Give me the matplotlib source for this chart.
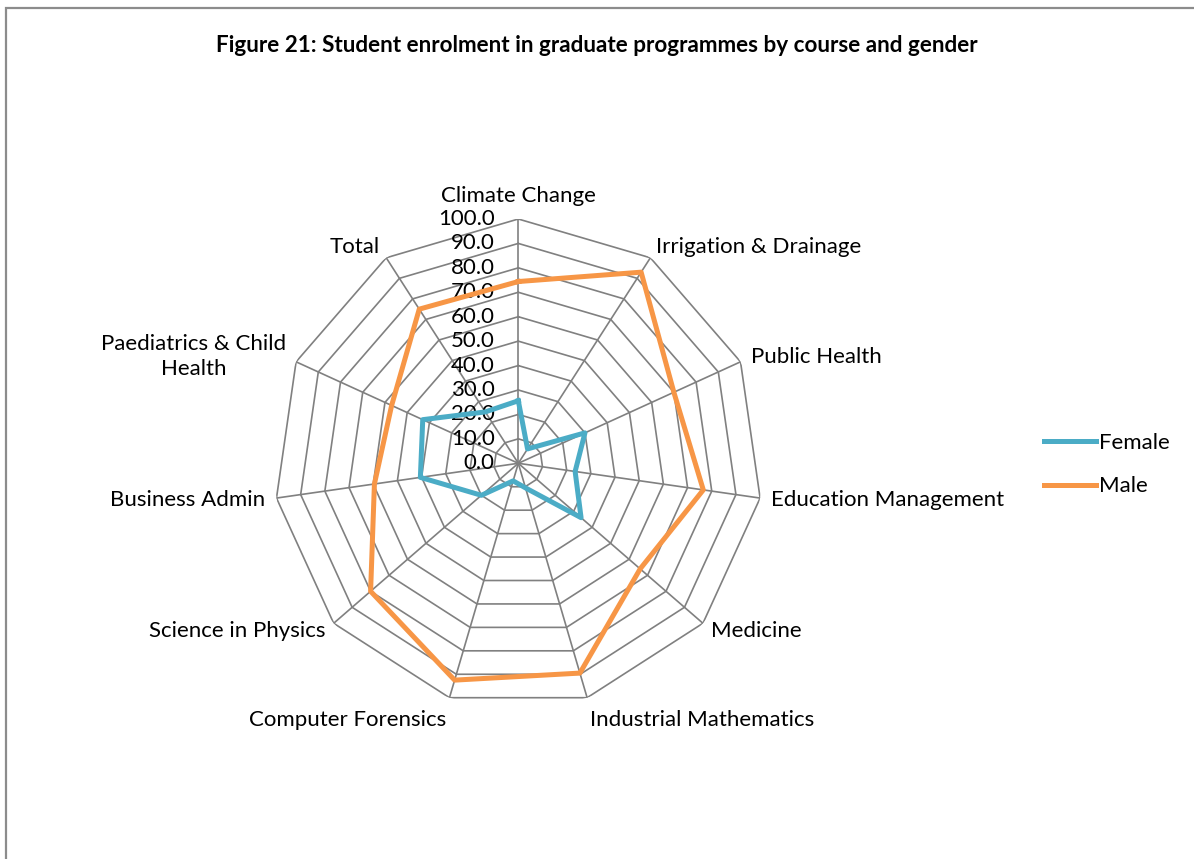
import numpy as np
import matplotlib.pyplot as plt
from matplotlib.patches import Rectangle

courses = ['Climate Change', 'Irrigation & Drainage', 'Public Health',
           'Education Management', 'Medicine', 'Industrial Mathematics',
           'Computer Forensics', 'Science in Physics', 'Business Admin',
           'Paediatrics & Child\nHealth', 'Total']
female = [25.6, 7.0, 30.0, 23.5, 34.0, 10.5, 7.5, 20.0, 40.5, 43.0, 25.0]
male = [74.4, 93.0, 70.0, 76.5, 66.0, 89.5, 92.5, 80.0, 59.5, 57.0, 75.0]
levels = [0, 10, 20, 30, 40, 50, 60, 70, 80, 90, 100]

plt.rcParams['font.family'] = ['Lato', 'DejaVu Sans']
fs = 16

fig = plt.figure(figsize=(11.94, 8.59), dpi=100)
fig.patches.append(Rectangle((6/1194, -0.05), 1.1, 1.05 - 8.5/859, transform=fig.transFigure,
                             fill=False, edgecolor='#8c8c8c', lw=1.6))
fig.text(0.5, 1 - 46/859, 'Figure 21: Student enrolment in graduate programmes by course and gender',
         ha='center', va='center', fontsize=16.2, fontweight='bold')

ax = fig.add_axes([274/1194, 151.4/859, 488.6/1194, 488.6/859], projection='polar')
ax.set_theta_offset(np.pi/2)
ax.set_theta_direction(-1)
ax.set_ylim(0, 100)
ax.grid(False)
ax.set_xticks([]); ax.set_yticks([])
ax.spines['polar'].set_visible(False)
ax.patch.set_alpha(0)

n = len(courses)
theta = np.arange(n) * 2*np.pi/n
closed = np.append(theta, theta[0])

# polygon web and spokes
gcol = '#808080'
for lv in levels[1:]:
    ax.plot(closed, [lv]*(n+1), color=gcol, lw=1.2, zorder=1)
for t in theta:
    ax.plot([t, t], [0, 100], color=gcol, lw=1.2, zorder=1)

for lv in levels:
    ax.annotate('%.1f' % lv, xy=(0, lv), xytext=(-17, 0), textcoords='offset points',
                ha='right', va='center', fontsize=fs, zorder=3)

ax.plot(closed, female + female[:1], color='#4BACC6', lw=3.6, label='Female', zorder=4)
ax.plot(closed, male + male[:1], color='#F79646', lw=3.6, label='Male', zorder=4)

for t, name in zip(theta, courses):
    s, c = np.sin(t), np.cos(t)
    ha = 'left' if s > 0.1 else ('right' if s < -0.1 else 'center')
    va = 'bottom' if c > 0.9 else ('top' if c < -0.9 else 'center')
    ax.annotate(name, xy=(t, 100), xytext=(8*s, 9*c), textcoords='offset points',
                ha=ha, va=va, fontsize=fs, multialignment='center', linespacing=1.35)

fig.legend(loc='center left', bbox_to_anchor=(0.858, 0.459), frameon=False, fontsize=fs,
           handlelength=2.3, handletextpad=0.15, labelspacing=1.05)

fig.savefig('out.png', dpi=100)
